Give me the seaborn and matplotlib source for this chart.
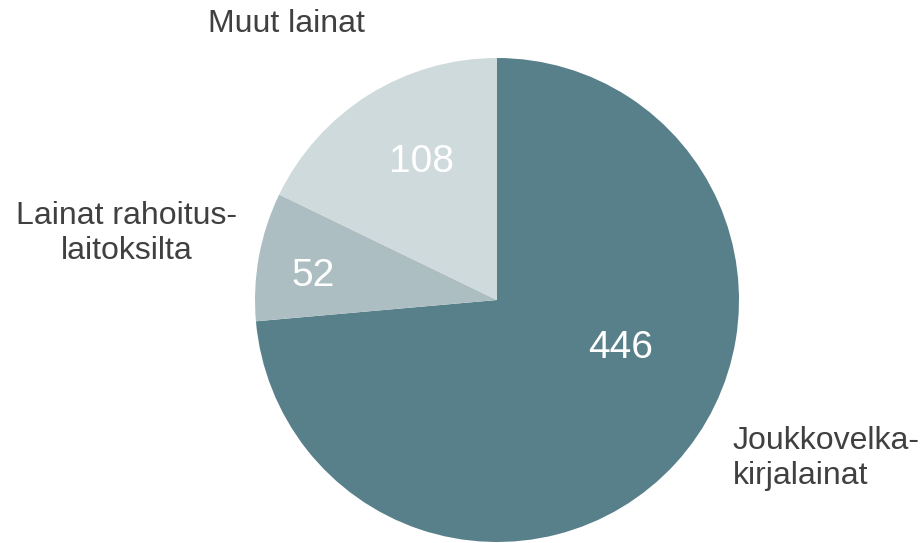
import matplotlib
matplotlib.use("Agg")
import matplotlib.pyplot as plt
import seaborn as sns

# Data
categories = ["Joukkovelka-\nkirjalainat", "Lainat rahoitus-\nlaitoksilta", "Muut lainat"]
values = [446, 52, 108]
colors = ["#58808a", "#adbec2", "#cfdadc"]

sns.set_theme(style="white")
plt.rcParams['font.family'] = ['Liberation Sans', 'DejaVu Sans']

fig = plt.figure(figsize=(9.22, 5.43), dpi=100)
# axes placed so that the pie sits where it does in the original
ax = fig.add_axes([255 / 922, 1 / 543, 484 / 922, 484 / 543])

wedges, _ = ax.pie(values, colors=sns.color_palette(colors), startangle=90,
                   counterclock=False, radius=1.0,
                   wedgeprops=dict(linewidth=0))
ax.set_xlim(-1, 1)
ax.set_ylim(-1, 1)
ax.set_aspect('equal')
ax.axis('off')

# value labels inside the wedges
value_pos = [(0.51, -0.2), (-0.76, 0.10), (-0.31, 0.57)]
for v, (x, y) in zip(values, value_pos):
    ax.text(x, y, str(v), ha='center', va='center', color='white', fontsize=28)

# category labels outside
label_pos = [(0.975, -0.655, 'left'), (-1.53, 0.275, 'center'), (-0.87, 1.14, 'center')]
for lab, (x, y, ha) in zip(categories, label_pos):
    ax.text(x, y, lab, ha=ha, va='center', color='#404040', fontsize=23,
            linespacing=1.25, clip_on=False)

fig.savefig("out.png", dpi=100)
